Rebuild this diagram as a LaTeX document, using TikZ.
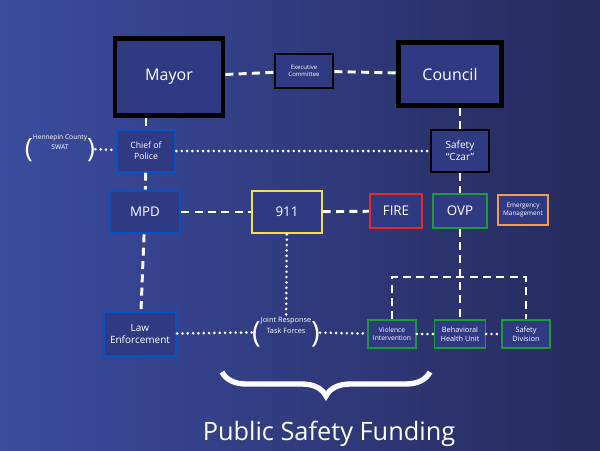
\documentclass[tikz,border=0pt]{standalone}
\usepackage{fontspec}
\setmainfont{Open Sans}
\usetikzlibrary{positioning,decorations.pathreplacing}
\definecolor{bgtop}{HTML}{3B4CA0}
\definecolor{bgbot}{HTML}{262A5C}
\definecolor{boxfill}{HTML}{2F3A82}
\definecolor{polblue}{HTML}{0A50C0}
\definecolor{yel}{HTML}{F2E04A}
\definecolor{firered}{HTML}{E52A2A}
\definecolor{ovpgreen}{HTML}{1E9A3A}
\definecolor{emorange}{HTML}{F29A50}
\tikzset{
  unit/.style={draw, fill=boxfill, text=white, align=center, inner sep=1pt, line width=1.6pt},
  dashlink/.style={white, line width=2.2pt, dash pattern=on 6pt off 4pt},
  dotlink/.style={white, line width=2.2pt, line cap=round, dash pattern=on 0pt off 4pt},
  paren/.style={text=white, align=center, font=\fontsize{5}{6}\selectfont, inner sep=0pt}
}
\begin{document}
\begin{tikzpicture}[x=0.75pt,y=-0.75pt]
\shade[shading angle=135, left color=bgtop, right color=bgbot] (0,0) rectangle (600,450);
\useasboundingbox (0,0) rectangle (600,450);
% top level
\node[unit, line width=3.5pt, draw=black, minimum width=81pt, minimum height=58pt, font=\fontsize{12}{14}\selectfont] (mayor) at (169,77) {Mayor};
\node[unit, line width=3.5pt, draw=black, minimum width=77pt, minimum height=47pt, font=\fontsize{12}{14}\selectfont] (council) at (450,74) {Council};
\node[unit, draw=black, minimum width=44pt, minimum height=25pt, font=\fontsize{4.5}{5.5}\selectfont] (exec) at (304,71) {Executive\\Committee};
% second level
\node[unit, draw=polblue, minimum width=44pt, minimum height=31pt, font=\fontsize{6.5}{8}\selectfont] (chief) at (146,151) {Chief of\\Police};
\node[unit, draw=black, minimum width=44pt, minimum height=31pt, font=\fontsize{7.5}{9}\selectfont] (czar) at (460,151) {Safety\\``Czar''};
\node[paren] (swat) at (60,148) {\raisebox{-6pt}{\fontsize{20}{20}\selectfont\addfontfeature{}(}\shortstack{Hennepin County\\SWAT}\raisebox{-6pt}{\fontsize{20}{20}\selectfont)}};
% third level
\node[unit, draw=polblue, minimum width=53pt, minimum height=32pt, font=\fontsize{10}{12}\selectfont] (mpd) at (145,212) {MPD};
\node[unit, draw=yel, minimum width=52pt, minimum height=32pt, font=\fontsize{10}{12}\selectfont] (nine) at (287,212) {911};
\node[unit, draw=firered, minimum width=39pt, minimum height=25pt, font=\fontsize{10}{12}\selectfont] (fire) at (396,211) {FIRE};
\node[unit, draw=ovpgreen, minimum width=40pt, minimum height=25pt, font=\fontsize{10}{12}\selectfont] (ovp) at (460,211) {OVP};
\node[unit, draw=emorange, minimum width=38pt, minimum height=23pt, font=\fontsize{4.8}{6}\selectfont] (emerg) at (523,210) {Emergency\\Management};
% bottom level
\node[unit, draw=polblue, minimum width=54pt, minimum height=33pt, font=\fontsize{7.5}{9}\selectfont] (law) at (140,334) {Law\\Enforcement};
\node[paren, font=\fontsize{5.5}{6.5}\selectfont] (joint) at (286,332) {\raisebox{-7pt}{\fontsize{22}{22}\selectfont(}\shortstack{Joint Response\\Task Forces}\raisebox{-7pt}{\fontsize{22}{22}\selectfont)}};
\node[unit, draw=ovpgreen, line width=1.2pt, minimum width=36pt, minimum height=21pt, font=\fontsize{5}{6}\selectfont] (viol) at (392,334) {Violence\\Intervention};
\node[unit, draw=ovpgreen, line width=1.2pt, minimum width=38pt, minimum height=21pt, font=\fontsize{5.5}{6.5}\selectfont] (behav) at (460,334) {Behavioral\\Health Unit};
\node[unit, draw=ovpgreen, line width=1.2pt, minimum width=36pt, minimum height=21pt, font=\fontsize{5.5}{6.5}\selectfont] (safediv) at (526,334) {Safety\\Division};
% links
\draw[dashlink] (mayor) -- (exec);
\draw[dashlink] (exec) -- (council);
\draw[dashlink] (mayor.south -| chief) -- (chief);
\draw[dashlink] (council.south -| czar) -- (czar);
\draw[dotlink] (chief) -- (czar);
\draw[dotlink] (swat) -- (chief);
\draw[dashlink] (chief) -- (mpd);
\draw[dashlink] (mpd) -- (nine);
\draw[dashlink] (nine) -- (fire);
\draw[dashlink] (czar) -- (ovp);
\draw[dashlink] (mpd) -- (law);
\draw[dotlink] (nine) -- (joint);
\draw[dotlink] (law) -- (joint);
\draw[dotlink] (joint) -- (viol);
\draw[dotlink] (viol) -- (behav);
\draw[dotlink] (behav) -- (safediv);
\draw[dashlink] (ovp) -- (behav);
\coordinate (barl) at (viol.north |- 0,277);
\coordinate (barr) at (safediv.north |- 0,277);
\draw[dashlink] (viol) -- (barl) -- (barr) -- (safediv);
% funding
\draw[white, line width=4pt, decorate, decoration={brace, mirror, amplitude=18pt}] (222,372) -- (430,372);
\node[text=white, font=\fontsize{19}{22}\selectfont] (fund) at (329,434) {Public Safety Funding};
\end{tikzpicture}
\end{document}
